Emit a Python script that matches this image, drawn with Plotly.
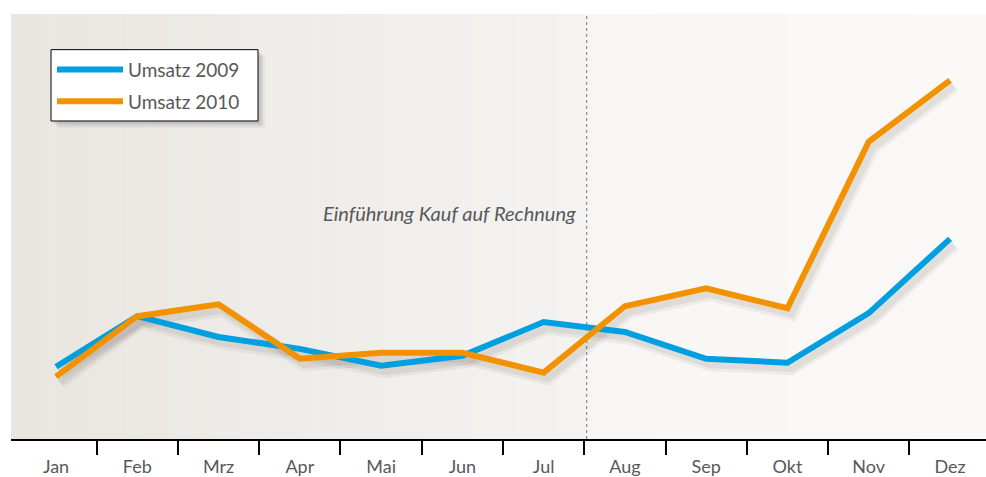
import plotly.graph_objects as go

months = ["Jan", "Feb", "Mrz", "Apr", "Mai", "Jun", "Jul", "Aug", "Sep", "Okt", "Nov", "Dez"]
umsatz_2009 = [73, 124, 103, 91, 74, 84, 118, 108, 81, 77, 127, 202]
umsatz_2010 = [63, 124, 136, 81, 87, 87, 67, 134, 152, 132, 300, 362]
series_names = ["Umsatz 2009", "Umsatz 2010"]
series_colors = ["#00a0e0", "#f39200"]
annotation_text = "Einführung Kauf auf Rechnung"

W, H = 986, 477
ML, MR, MT, MB = 11, 0, 14, 34
PW = W - ML - MR
PH = H - MT - MB
X_RANGE = [-0.554, 11.443]
Y_RANGE = [0, 429]
px_per_cat = PW / (X_RANGE[1] - X_RANGE[0])
px_per_y = PH / (Y_RANGE[1] - Y_RANGE[0])
SHX, SHY = 4, 6  # shadow offset in px
xs = list(range(len(months)))


def px(wx):
    return (wx - ML) / PW


def py(wy):
    return 1 - (wy - MT) / PH


fig = go.Figure()

# soft shadows on base axes (shifted ranges)
for vals in [umsatz_2009, umsatz_2010]:
    fig.add_trace(go.Scatter(x=xs, y=vals, mode="lines", xaxis="x", yaxis="y",
                             line=dict(color="rgba(60,50,40,0.06)", width=13),
                             showlegend=False, hoverinfo="skip"))
    fig.add_trace(go.Scatter(x=xs, y=vals, mode="lines", xaxis="x", yaxis="y",
                             line=dict(color="rgba(60,50,40,0.08)", width=7),
                             showlegend=False, hoverinfo="skip"))
# dummy trace so the boundary-tick axis is drawn
fig.add_trace(go.Scatter(x=[None], y=[None], xaxis="x3", yaxis="y2", showlegend=False,
                         hoverinfo="skip", mode="lines"))
# main lines on overlay axes
for i, (name, vals, col) in enumerate(zip(series_names, [umsatz_2009, umsatz_2010], series_colors)):
    fig.add_trace(go.Scatter(x=xs, y=vals, mode="lines", name=name,
                             xaxis="x2", yaxis="y2", legendgroup="g%d" % i,
                             line=dict(color=col, width=6)))


def lerp(c1, c2, t):
    return "rgb(%d,%d,%d)" % tuple(round(a + (b - a) * t) for a, b in zip(c1, c2))


split = 6.53
split_frac = (split - X_RANGE[0]) / (X_RANGE[1] - X_RANGE[0])
shapes = []
N = 40
regions = [(0, split_frac, (233, 230, 225), (244, 243, 241)),
           (split_frac, 1, (247, 246, 244), (250, 249, 248))]
for a, b, c1, c2 in regions:
    for i in range(N):
        x0 = a + (b - a) * i / N
        x1 = a + (b - a) * (i + 1) / N + 0.0005
        shapes.append(dict(type="rect", xref="paper", yref="paper", x0=x0, x1=min(x1, b), y0=0, y1=1,
                           fillcolor=lerp(c1, c2, (i + 0.5) / N), line=dict(width=0), layer="below"))
shapes.append(dict(type="line", xref="paper", yref="paper", x0=split_frac, x1=split_frac, y0=0, y1=1,
                   line=dict(color="#777777", width=1, dash="dot"), layer="below"))
# legend shadow (soft) and box
lx0, ly0, lx1, ly1 = 51, 50, 258, 122
for d, a in [(7, 0.04), (5, 0.06), (3, 0.08)]:
    shapes.append(dict(type="rect", xref="paper", yref="paper",
                       x0=px(lx0 + d), x1=px(lx1 + d), y0=py(ly1 + d), y1=py(ly0 + d),
                       fillcolor="rgba(0,0,0,%.2f)" % a, line=dict(width=0), layer="above"))
shapes.append(dict(type="rect", xref="paper", yref="paper",
                   x0=px(lx0), x1=px(lx1), y0=py(ly1), y1=py(ly0),
                   fillcolor="white", line=dict(color="black", width=1), layer="above"))

font_family = "Lato, 'Open Sans', sans-serif"
boundaries = [i + 0.5 for i in range(len(months) - 1)]
fig.update_layout(
    width=W, height=H,
    margin=dict(l=ML, r=MR, t=MT, b=MB),
    paper_bgcolor="white",
    plot_bgcolor="rgba(0,0,0,0)",
    font=dict(family=font_family, color="#58585a", size=18),
    shapes=shapes,
    xaxis=dict(range=[X_RANGE[0] - SHX / px_per_cat, X_RANGE[1] - SHX / px_per_cat],
               visible=False, fixedrange=True),
    yaxis=dict(range=[Y_RANGE[0] + SHY / px_per_y, Y_RANGE[1] + SHY / px_per_y],
               visible=False, fixedrange=True),
    xaxis2=dict(overlaying="x", side="bottom", anchor="y2", range=X_RANGE,
                tickmode="array", tickvals=xs, ticktext=months,
                showline=True, linecolor="black", linewidth=1.5,
                ticks="", ticklabelstandoff=11,
                showgrid=False, zeroline=False, fixedrange=True,
                tickfont=dict(size=18, color="#58585a", family=font_family)),
    xaxis3=dict(overlaying="x", side="bottom", anchor="y2", range=X_RANGE,
                tickmode="array", tickvals=boundaries, showticklabels=False,
                ticks="outside", ticklen=15, tickwidth=1.5, tickcolor="black",
                showgrid=False, zeroline=False, showline=False, fixedrange=True),
    yaxis2=dict(overlaying="y", range=Y_RANGE, visible=False, showgrid=False, fixedrange=True),
    legend=dict(x=px(lx0 + 1), y=py(ly0 + 1), xanchor="left", yanchor="top",
                bgcolor="rgba(0,0,0,0)", borderwidth=0,
                font=dict(size=19, color="#58585a", family=font_family),
                itemwidth=66, tracegroupgap=4, traceorder="grouped"),
    annotations=[dict(text="<i>" + annotation_text + "</i>", xref="paper", yref="paper",
                      x=px(578), y=py(215), xanchor="right", yanchor="middle",
                      showarrow=False, font=dict(size=20, color="#58585a", family=font_family))],
    showlegend=True,
)

fig.write_html("out.html", config={"displayModeBar": False},
               post_script="document.body.style.margin='0px';document.body.style.overflow='hidden';")
